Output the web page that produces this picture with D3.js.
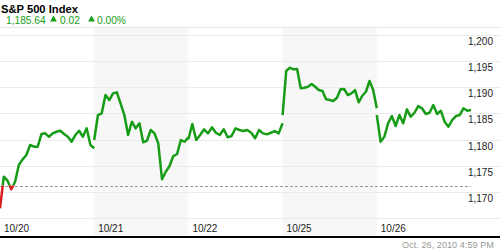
<!DOCTYPE html>
<html>
<head>
<meta charset="utf-8">
<script src="https://cdn.jsdelivr.net/npm/d3@7"></script>
<style>
  html, body { margin: 0; padding: 0; background: #fff; }
  svg { display: block; }
</style>
</head>
<body>
<div id="chart"></div>
<script>
// S&P 500 five-day chart

const days = ['10/20', '10/21', '10/22', '10/25', '10/26'];
const shadedDays = [1, 3];

const day1 = [1166.85, 1172.90, 1172.13, 1170.49, 1171.94, 1175.13, 1176.22, 1177.05, 1178.96, 1178.63,
  1178.63, 1181.06, 1181.19, 1180.54, 1181.19, 1181.50, 1181.69, 1181.06, 1180.54, 1179.59,
  1180.87, 1181.69, 1180.54, 1182.15, 1178.96, 1178.33];
const day2 = [1179.91, 1184.69, 1185.02, 1188.52, 1187.56, 1188.84, 1189.03, 1186.93, 1184.69, 1180.87,
  1183.41, 1182.15, 1183.11, 1179.47, 1179.78, 1181.83, 1181.19, 1179.28, 1172.40, 1173.85,
  1174.94, 1176.85, 1177.24, 1179.91, 1179.59, 1180.43];
const day3 = [1180.05, 1182.97, 1179.91, 1180.87, 1181.96, 1181.19, 1182.34, 1181.31, 1180.87, 1181.96,
  1180.43, 1180.68, 1182.15, 1181.83, 1181.63, 1181.83, 1181.31, 1180.24, 1181.83, 1181.19,
  1181.00, 1181.31, 1181.63, 1181.19, 1183.11];
const day4 = [1184.69, 1193.11, 1193.74, 1193.43, 1193.49, 1189.80, 1189.91, 1190.11, 1190.62, 1190.11,
  1189.47, 1189.28, 1187.70, 1187.56, 1187.37, 1188.00, 1189.61, 1189.67, 1188.52, 1188.84,
  1189.47, 1187.12, 1188.38, 1189.15, 1191.20, 1189.47, 1185.98];
const day5 = [1184.69, 1179.59, 1180.54, 1183.11, 1184.50, 1182.59, 1184.69, 1183.11, 1185.78, 1184.37,
  1185.13, 1186.41, 1185.98, 1184.89, 1185.13, 1186.61, 1184.89, 1185.52, 1183.41, 1182.46,
  1183.74, 1184.50, 1184.69, 1185.98, 1185.52, 1185.64];
const series = [day1, day2, day3, day4, day5];

const gridValues = [1165, 1170, 1175, 1180, 1185, 1190, 1195, 1200];
const labelValues = [1170, 1175, 1180, 1185, 1190, 1195, 1200];
const refLevel = 1171.2;

const title = 'S&P 500 Index';
const lastPrice = '1,185.64';
const change = '0.02';
const changePct = '0.00%';
const stamp = 'Oct. 26, 2010 4:59 PM';

const W = 500, H = 250;
const plotTop = 28, plotBottom = 236, plotRight = 471;
const green = '#169c16', red = '#d81e1e';
const font = '"Liberation Sans", Arial, sans-serif';

const svg = d3.select('#chart').append('svg')
  .attr('width', W)
  .attr('height', H)
  .style('font-family', font);

const x = d3.scaleLinear().domain([0, days.length]).range([0, plotRight]);
const y = d3.scaleLinear().domain([1165, 1200]).range([218, 35]);

// alternating day bands
svg.append('g')
  .selectAll('rect')
  .data(shadedDays)
  .join('rect')
  .attr('x', d => x(d))
  .attr('y', plotTop)
  .attr('width', d => x(d + 1) - x(d))
  .attr('height', plotBottom - plotTop)
  .attr('fill', '#f7f7f7');

// header border
svg.append('line')
  .attr('x1', 0).attr('x2', W)
  .attr('y1', plotTop - 0.5).attr('y2', plotTop - 0.5)
  .attr('stroke', '#e6e6e6');

// grid
svg.append('g')
  .selectAll('line')
  .data(gridValues)
  .join('line')
  .attr('x1', 0).attr('x2', W)
  .attr('y1', d => Math.round(y(d)) + 0.5)
  .attr('y2', d => Math.round(y(d)) + 0.5)
  .attr('stroke', '#ebebeb');

// y labels
const fmt = d3.format(',');
svg.append('g')
  .selectAll('text')
  .data(labelValues)
  .join('text')
  .attr('x', 493)
  .attr('y', d => y(d) + 10)
  .attr('text-anchor', 'end')
  .attr('font-size', 10)
  .attr('fill', '#222')
  .text(d => fmt(d));

// reference (dashed) level
svg.append('line')
  .attr('x1', 0).attr('x2', plotRight)
  .attr('y1', Math.round(y(refLevel)) + 0.5)
  .attr('y2', Math.round(y(refLevel)) + 0.5)
  .attr('stroke', '#999')
  .attr('stroke-dasharray', '3,2');

// day labels
svg.append('g')
  .selectAll('text')
  .data(days)
  .join('text')
  .attr('x', (d, i) => x(i) + 4)
  .attr('y', 232)
  .attr('font-size', 10)
  .attr('fill', '#222')
  .text(d => d);

// clip above / below reference level
const defs = svg.append('defs');
defs.append('clipPath').attr('id', 'clip-up')
  .append('rect').attr('x', 0).attr('y', 0).attr('width', W).attr('height', y(refLevel));
defs.append('clipPath').attr('id', 'clip-down')
  .append('rect').attr('x', 0).attr('y', y(refLevel)).attr('width', W).attr('height', H - y(refLevel));

const line = d3.line()
  .x(d => x(d.t))
  .y(d => y(d.v));

const dayPoints = series.map((vals, di) =>
  vals.map((v, i) => ({ t: di + i / (vals.length - 1), v })));

[['clip-up', green], ['clip-down', red]].forEach(([clip, color]) => {
  svg.append('g')
    .attr('clip-path', `url(#${clip})`)
    .selectAll('path')
    .data(dayPoints)
    .join('path')
    .attr('d', line)
    .attr('fill', 'none')
    .attr('stroke', color)
    .attr('stroke-width', 2.5)
    .attr('stroke-linejoin', 'round');
});

// bottom rule
svg.append('rect')
  .attr('x', 0).attr('y', plotBottom)
  .attr('width', W).attr('height', 2)
  .attr('fill', '#000');

// header
svg.append('text')
  .attr('x', 1).attr('y', 13)
  .attr('font-size', 11.2)
  .attr('font-weight', 'bold')
  .attr('fill', '#000')
  .text(title);

const header = svg.append('g')
  .attr('font-size', 10.2)
  .attr('fill', green);
header.append('text').attr('x', 6).attr('y', 24).text(lastPrice);
header.append('text').attr('x', 60).attr('y', 24).text(change);
header.append('text').attr('x', 97).attr('y', 24).text(changePct);

// up arrows
const tri = d3.symbol().type(d3.symbolTriangle).size(20);
header.selectAll('path.up')
  .data([53.5, 91.5])
  .join('path')
  .attr('class', 'up')
  .attr('transform', d => `translate(${d},19.5)`)
  .attr('d', tri);

// timestamp
svg.append('text')
  .attr('x', 494).attr('y', 248)
  .attr('text-anchor', 'end')
  .attr('font-size', 9.2)
  .attr('fill', '#999')
  .text(stamp);
</script>
</body>
</html>
